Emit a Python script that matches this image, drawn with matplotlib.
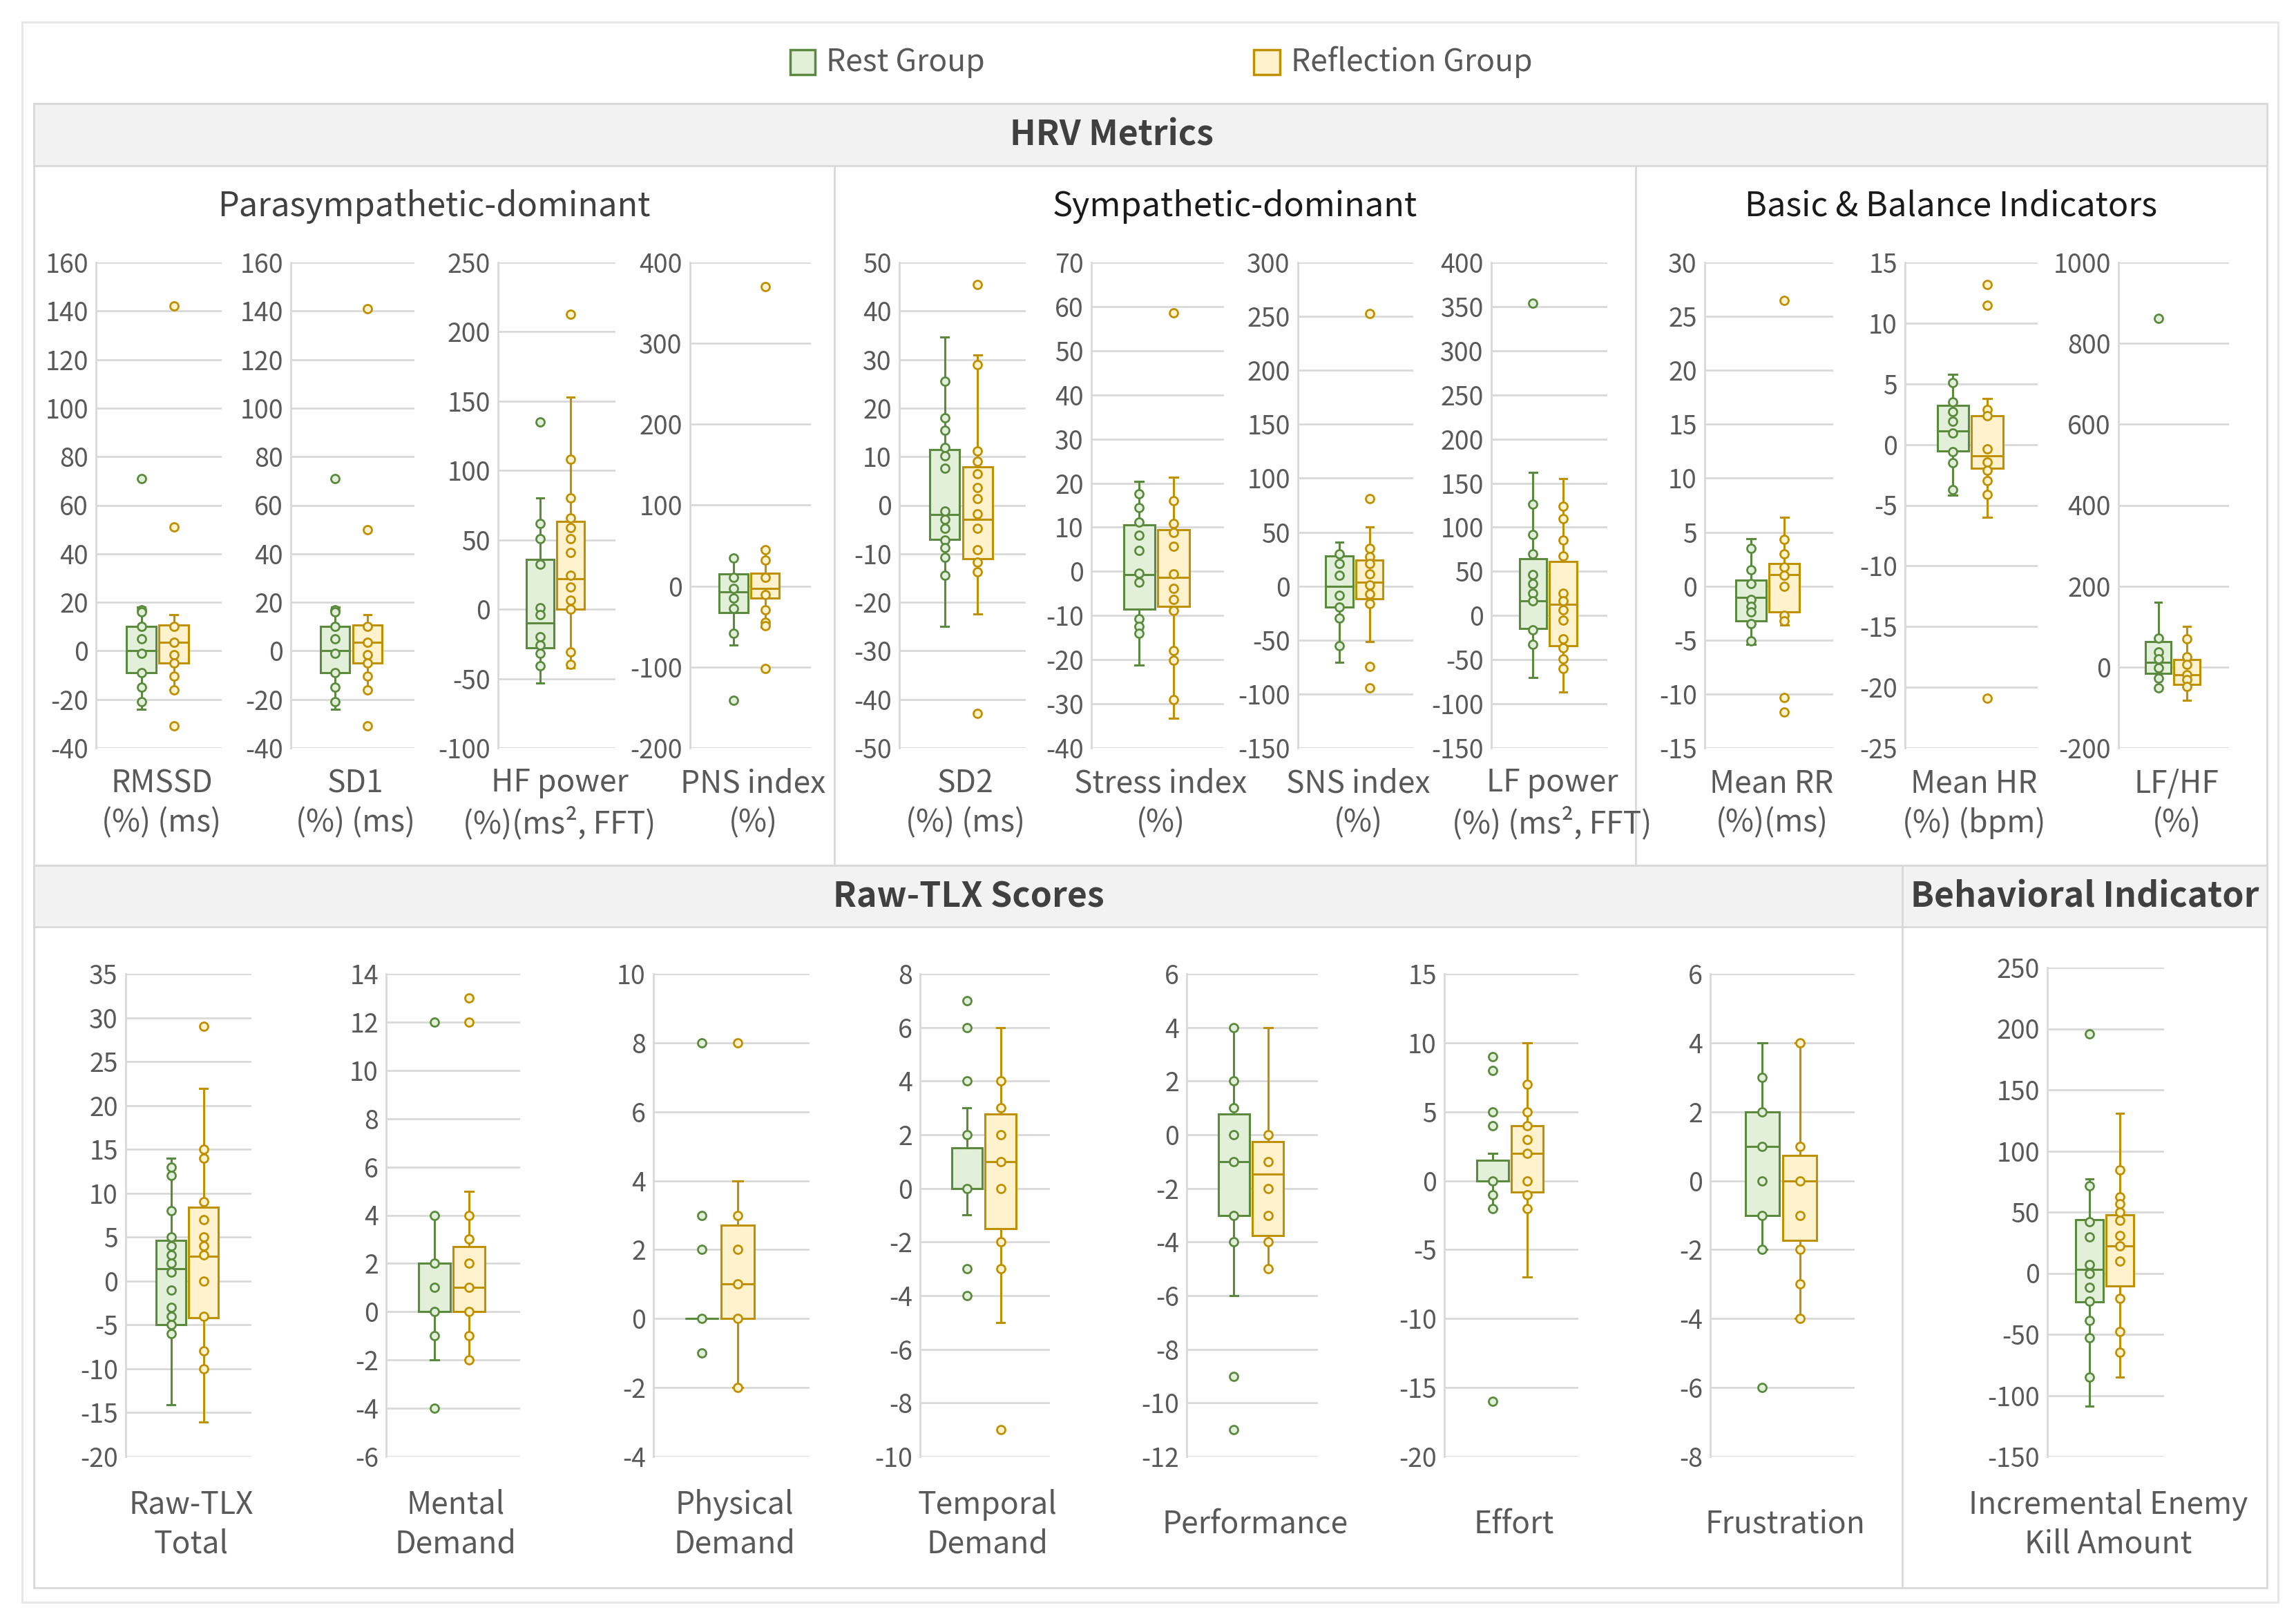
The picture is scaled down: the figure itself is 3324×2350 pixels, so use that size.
import matplotlib
matplotlib.use('Agg')
import matplotlib.pyplot as plt
from matplotlib.patches import Rectangle

plt.rcParams['font.family'] = ['Noto Sans CJK SC', 'DejaVu Sans']
plt.rcParams['axes.unicode_minus'] = False

W, H = 3324, 2350

# ---- data ----
labels = ['RMSSD\n(%) (ms)', 'SD1\n(%) (ms)', 'HF power\n(%)(ms², FFT)', 'PNS index\n(%)',
          'SD2\n(%) (ms)', 'Stress index\n(%)', 'SNS index\n(%)', 'LF power\n(%) (ms², FFT)',
          'Mean RR\n(%)(ms)', 'Mean HR\n(%) (bpm)', 'LF/HF\n(%)',
          'Raw-TLX\nTotal', 'Mental\nDemand', 'Physical\nDemand', 'Temporal\nDemand',
          'Performance', 'Effort', 'Frustration', 'Incremental Enemy\nKill Amount']

# y axis: min, max, step
y_ranges = [(-40, 160, 20), (-40, 160, 20), (-100, 250, 50), (-200, 400, 100),
            (-50, 50, 10), (-40, 70, 10), (-150, 300, 50), (-150, 400, 50),
            (-15, 30, 5), (-25, 15, 5), (-200, 1000, 200),
            (-20, 35, 5), (-6, 14, 2), (-4, 10, 2), (-10, 8, 2),
            (-12, 6, 2), (-20, 15, 5), (-8, 6, 2), (-150, 250, 50)]

# box stats: q1, median, q3, whisker low, whisker high
rest_box = [(-9, 0, 10, -24, 18), (-9, 0, 10, -24, 18), (-27.6, -9.8, 36, -53, 80), (-33, -7, 15, -73, 37),
            (-7.1, -1.9, 11.5, -25, 34.6), (-8.6, -0.8, 10.5, -21.3, 20.4), (-19.3, 0, 27.9, -70.7, 40.7),
            (-14.9, 16.6, 64.7, -70, 162),
            (-3.2, -1.07, 0.56, -5.4, 4.4), (-0.53, 1.1, 3.2, -4.2, 5.8), (-16, 11.4, 62.9, -51, 161),
            (-5, 1.4, 4.66, -14.1, 14), (0, 0, 2, -2, 4), (0, 0, 0, 0, 0), (0, 0, 1.5, -1, 3),
            (-3, -1, 0.76, -6, 4), (0, 0, 1.5, -2, 2), (-1, 1, 2, -2, 4), (-23.4, 3.2, 43.6, -108.5, 77)]

refl_box = [(-5, 3.5, 10.5, -16, 15), (-5, 3.5, 10.5, -16, 15), (0, 22, 63.5, -42, 153), (-15, -3, 16, -51, 47),
            (-11, -2.9, 7.9, -22.4, 31), (-8, -1.4, 9.5, -33.2, 21.3), (-11.6, 3.4, 24.4, -51.4, 54.9),
            (-34.3, 12.9, 61, -87, 155),
            (-2.36, 1.07, 2.06, -3.6, 6.4), (-1.94, -0.95, 2.36, -6, 3.8), (-42.3, -19.4, 18.3, -82, 100.6),
            (-4.2, 2.8, 8.4, -16.1, 21.9), (0, 1, 2.7, -2, 5), (0, 1, 2.7, -2, 4), (-1.5, 1, 2.76, -5, 6),
            (-3.75, -1.46, -0.25, -5, 4), (-0.8, 2, 4, -7, 10), (-1.73, 0, 0.73, -4, 4), (-10.3, 22.2, 48, -84.8, 131)]

rest_pts = [[71, 17, 16, 10, 5, -1, -9, -15, -21],
            [71, 17, 16, 10, 5, -1, -9, -15, -21],
            [135, 62, 51, 32.5, 1, -4, -20, -26, -32, -41],
            [35, 11, -3, -15, -27.5, -58, -141],
            [25.5, 18, 15.4, 11.9, 10.2, 7.6, -1.2, -2.9, -4.8, -7.2, -8.8, -10.7, -14.5],
            [17.6, 14.5, 11.1, 8.2, 4.7, -0.4, -2.5, -10.7, -12.5, -14.1],
            [30, 20.6, 9.9, -8.6, -19.3, -29.6, -55.3],
            [354, 126.5, 92, 70, 46.4, 36, 25.5, 16.6, -15.9, -32.5],
            [3.5, 1.5, 0.26, -1.24, -1.9, -2.4, -3.5, -5.1],
            [5.1, 3.5, 2.7, 1.9, 0.95, -0.57, -1.5, -3.7],
            [862, 72, 37.7, 20.6, -2.3, -27.4, -51.4],
            [13, 12, 8, 5, 4, 3, 2, 1, -1, -3, -4, -5, -6],
            [12, 4, 2, 1, 0, -1, -4],
            [8, 3, 2, 0, -1],
            [7, 6, 4, 2, 0, -3, -4],
            [4, 2, 1, 0, -1, -3, -4, -9, -11],
            [9, 8, 5, 4, 0, -1, -2, -16],
            [3, 2, 1, 0, -1, -2, -6],
            [196, 71.7, 42, 29.7, 7.1, 0, -11.5, -22.6, -38.8, -53, -84.8]]

refl_pts = [[142, 51, 10, 3.5, -1.5, -5, -10.5, -16, -31],
            [141, 50, 10, 3.5, -1.5, -5, -10.5, -16, -31],
            [212.6, 108, 80, 66, 59, 51, 41, 24.5, 16, 6.6, 0, -31, -40],
            [370, 45, 32, 11, -10.5, -29.5, -44.5, -49, -102],
            [45.4, 28.9, 11.1, 9.1, 6.5, 3.6, 1.4, -1.8, -4.7, -9.2, -11.8, -13.7, -42.9],
            [58.5, 16, 10.9, 8.8, 5.7, -0.6, -3.8, -6.3, -8.9, -17.9, -20.1, -29.1],
            [252.6, 81.4, 34.7, 27, 20.6, 11.1, 1.3, -7.3, -15.9, -74.6, -94.3],
            [124, 110, 85.6, 67.8, 25.5, 16.6, 6.1, -5.4, -26.4, -36.9, -48.9, -60.4],
            [26.5, 4.3, 3, 1.8, 1, 0, -2.7, -3.2, -10.3, -11.7],
            [13.2, 11.5, 2.9, 2.36, -0.38, -1.45, -2.1, -3, -4.1, -20.9],
            [70, 26, 6.9, -19.4, -30.9, -48],
            [29, 15, 14, 9, 7, 5, 4, 3, 0, -4, -8, -10],
            [13, 12, 4, 3, 2, 1, 0, -1, -2],
            [8, 3, 2, 1, 0, -2],
            [4, 3, 2, 1, 0, -2, -3, -9],
            [0, -1, -2, -3, -4, -5],
            [7, 5, 4, 3, 2, 0, -1, -2],
            [4, 1, 0, -1, -2, -3, -4],
            [84.4, 62.6, 57, 50, 43, 31, 22.2, 10, -20.6, -47.5, -64.9]]

# ---- layout in pixels: x0, x1, y_top, y_bottom ----
ax_px = [(139, 321, 380, 1083), (421, 600, 380, 1083), (721, 891, 380, 1083), (999, 1174, 380, 1083),
         (1302, 1485, 380, 1083), (1580, 1772, 380, 1083), (1879, 2046, 380, 1083), (2159, 2327, 380, 1083),
         (2468, 2654, 380, 1083), (2758, 2950, 380, 1083), (3067, 3227, 380, 1083),
         (182, 364, 1410, 2109), (559, 753, 1410, 2109), (946, 1172, 1410, 2109), (1332, 1520, 1410, 2109),
         (1718, 1908, 1410, 2109), (2091, 2285, 1410, 2109), (2476, 2685, 1410, 2109), (2964, 3133, 1401, 2109)]

GREEN_FILL, GREEN_EDGE = '#E2F0D9', '#5B8A3F'
YEL_FILL, YEL_EDGE = '#FFF2CC', '#BF9000'
GRID = '#D9D9D9'
TXT = '#595959'
LIGHT = 'light'

fig = plt.figure(figsize=(W / 100, H / 100), dpi=100)
bg = fig.add_axes([0, 0, 1, 1])
bg.set_xlim(0, W)
bg.set_ylim(H, 0)
bg.axis('off')


def rect(x0, y0, x1, y1, fc='none', ec=GRID, lw=2):
    bg.add_patch(Rectangle((x0, y0), x1 - x0, y1 - y0, facecolor=fc, edgecolor=ec, linewidth=lw))


# frames and header bands
rect(32, 32, 3298, 2320, ec='#E6E6E6')
rect(49, 150, 3282, 1253)
rect(49, 150, 3282, 240, fc='#F2F2F2')
rect(49, 1253, 3282, 2299)
rect(49, 1253, 3282, 1342, fc='#F2F2F2')
for xv in (1208, 2368):
    bg.plot([xv, xv], [240, 1253], color=GRID, lw=2)
bg.plot([2754, 2754], [1253, 2299], color=GRID, lw=2)

bg.text(1609, 196, 'HRV Metrics', ha='center', va='center', fontsize=36, fontweight='bold', color='#404040')
bg.text(1402, 1299, 'Raw-TLX Scores', ha='center', va='center', fontsize=36, fontweight='bold', color='#404040')
bg.text(3018, 1299, 'Behavioral Indicator', ha='center', va='center', fontsize=36, fontweight='bold', color='#404040')

bg.text(628, 299, 'Parasympathetic-dominant', ha='center', va='center', fontsize=35, color='#404040',
        fontweight=LIGHT)
bg.text(1788, 299, 'Sympathetic-dominant', ha='center', va='center', fontsize=35, color='#1A1A1A',
        fontweight=LIGHT)
bg.text(2825, 299, 'Basic & Balance Indicators', ha='center', va='center', fontsize=35, color='#1A1A1A',
        fontweight=LIGHT)

# legend
rect(1144, 72, 1180, 108, fc=GREEN_FILL, ec=GREEN_EDGE, lw=2.5)
bg.text(1196, 90, 'Rest Group', ha='left', va='center', fontsize=32, color=TXT, fontweight=LIGHT)
rect(1815, 72, 1853, 108, fc=YEL_FILL, ec=YEL_EDGE, lw=2.5)
bg.text(1869, 90, 'Reflection Group', ha='left', va='center', fontsize=32, color=TXT, fontweight=LIGHT)

for i, lab in enumerate(labels):
    x0, x1, yt, yb = ax_px[i]
    ax = fig.add_axes([x0 / W, 1 - yb / H, (x1 - x0) / W, (yb - yt) / H])
    lo, hi, step = y_ranges[i]
    ax.set_ylim(lo, hi)
    ax.set_xlim(0, 1)
    ticks = list(range(lo, hi + 1, step))
    ax.set_yticks(ticks)
    ax.set_yticklabels([str(t) for t in ticks], fontweight=LIGHT)
    ax.tick_params(axis='y', length=0, labelsize=27, labelcolor=TXT, pad=8)
    ax.set_xticks([])
    for s in ('top', 'right', 'bottom'):
        ax.spines[s].set_visible(False)
    ax.spines['left'].set_color(GRID)
    ax.spines['left'].set_linewidth(2)
    ax.yaxis.grid(True, color=GRID, lw=2)
    ax.set_axisbelow(True)
    ax.patch.set_alpha(0)

    pos = (0.31, 0.54) if i == 13 else (0.36, 0.62)
    wd = 0.21 if i == 13 else 0.235
    for p, box, pts, fc, ec in ((pos[0], rest_box[i], rest_pts[i], GREEN_FILL, GREEN_EDGE),
                                (pos[1], refl_box[i], refl_pts[i], YEL_FILL, YEL_EDGE)):
        q1, med, q3, wlo, whi = box
        stats = [dict(q1=q1, med=med, q3=q3, whislo=wlo, whishi=whi, fliers=[])]
        ax.bxp(stats, positions=[p], widths=wd, patch_artist=True, showfliers=False,
               manage_ticks=False, capwidths=0.06,
               boxprops=dict(facecolor=fc, edgecolor=ec, linewidth=2.2),
               medianprops=dict(color=ec, linewidth=2.2),
               whiskerprops=dict(color=ec, linewidth=2.2),
               capprops=dict(color=ec, linewidth=2.2))
        ax.scatter([p] * len(pts), pts, s=75, facecolor=fc, edgecolor=ec, linewidth=2, zorder=4,
                   clip_on=False)

    bg.text((x0 + x1) / 2 + 4, (yb + 80) if i < 11 else (yb + 98), lab, ha='center', va='center',
            fontsize=32, color=TXT, linespacing=1.3, fontweight=LIGHT)

fig.savefig('out.png', dpi=100, facecolor='white')
